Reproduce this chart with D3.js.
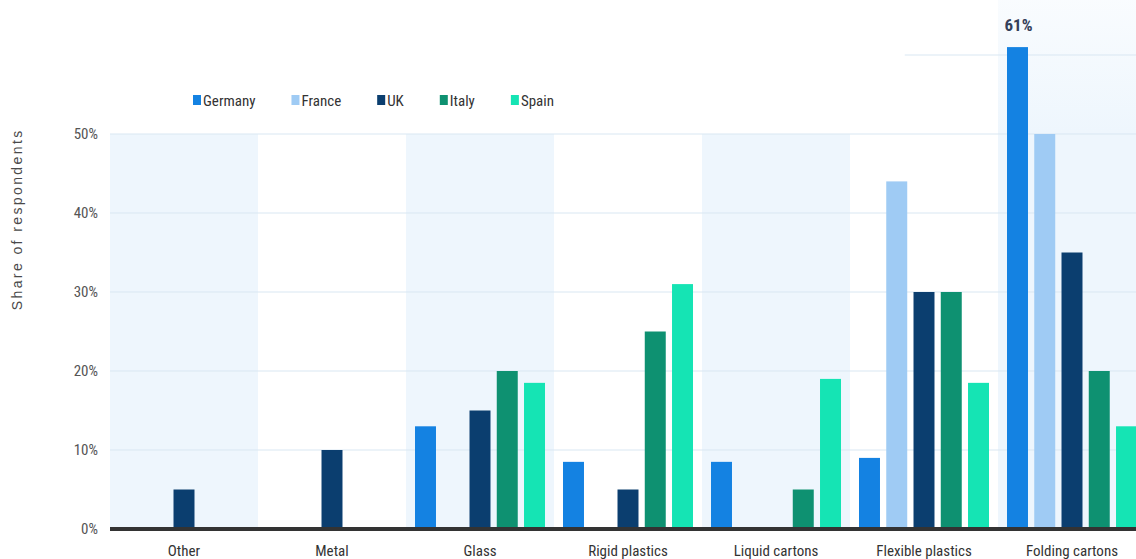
<!DOCTYPE html>
<html>
<head>
<meta charset="utf-8">
<script src="https://cdn.jsdelivr.net/npm/d3@7/dist/d3.min.js"></script>
<style>
  html, body { margin: 0; padding: 0; background: #fff; }
  svg { display: block; }
  .narrow { font-family: "Liberation Sans Narrow", "Roboto Condensed", "DejaVu Sans Condensed", sans-serif; }
</style>
</head>
<body>
<svg id="chart" width="1136" height="559"></svg>
<script>
// Packaging types and countries surveyed
const categories = ["Other", "Metal", "Glass", "Rigid plastics", "Liquid cartons", "Flexible plastics", "Folding cartons"];
const countries = ["Germany", "France", "UK", "Italy", "Spain"];

// Share of respondents (%) per country, in category order
const germany = [0, 0, 13, 8.5, 8.5, 9, 61];
const france  = [0, 0, 0, 0, 0, 44, 50];
const uk      = [5, 10, 15, 5, 0, 30, 35];
const italy   = [0, 0, 20, 25, 5, 30, 20];
const spain   = [0, 0, 18.5, 31, 19, 18.5, 13];

const yTicks = [0, 10, 20, 30, 40, 50];
const labelled = { country: "Germany", category: "Folding cartons", text: "61%" };

const seriesValues = { Germany: germany, France: france, UK: uk, Italy: italy, Spain: spain };
const colors = { Germany: "#1482e2", France: "#9fcbf4", UK: "#0b3e6f", Italy: "#0e9171", Spain: "#15e4b4" };

const W = 1136, H = 559;
const svg = d3.select("#chart");

const x0 = d3.scaleBand().domain(categories).range([110, 1146]).paddingInner(0).paddingOuter(0);
const x1 = d3.scaleBand().domain(countries).range([0, x0.bandwidth()]).paddingInner(0.23).paddingOuter(0.33);
const y = d3.scaleLinear().domain([0, 60]).range([529, 55]);

// soft highlight for the last category column
const defs = svg.append("defs");
const grad = defs.append("linearGradient").attr("id", "hl").attr("x1", 0).attr("y1", 0).attr("x2", 0).attr("y2", 1);
grad.append("stop").attr("offset", "0%").attr("stop-color", "#eef6fd").attr("stop-opacity", 0.35);
grad.append("stop").attr("offset", "25%").attr("stop-color", "#eef6fd").attr("stop-opacity", 1);
grad.append("stop").attr("offset", "100%").attr("stop-color", "#eef6fd").attr("stop-opacity", 1);

// alternating band shading
const lastCat = categories[categories.length - 1];
svg.append("g").selectAll("rect")
  .data(categories.filter((c, i) => i % 2 === 0))
  .join("rect")
  .attr("x", d => x0(d))
  .attr("width", x0.bandwidth())
  .attr("y", d => d === lastCat ? 0 : y(50))
  .attr("height", d => y(0) - (d === lastCat ? 0 : y(50)))
  .attr("fill", d => d === lastCat ? "url(#hl)" : "#eef6fd");

// horizontal grid
const grid = svg.append("g");
grid.selectAll("line")
  .data(yTicks.filter(t => t > 0))
  .join("line")
  .attr("x1", x0.range()[0]).attr("x2", W)
  .attr("y1", d => y(d)).attr("y2", d => y(d))
  .attr("stroke", "#d9e7f2").attr("stroke-width", 1);
grid.append("line")
  .attr("x1", x0("Flexible plastics") + x0.bandwidth() * 0.37).attr("x2", W)
  .attr("y1", y(60)).attr("y2", y(60))
  .attr("stroke", "#d9e7f2").attr("stroke-width", 1);

// bars
const rows = [];
categories.forEach((c, i) => countries.forEach(k => rows.push({ category: c, country: k, value: seriesValues[k][i] })));
svg.append("g").selectAll("rect")
  .data(rows.filter(d => d.value > 0))
  .join("rect")
  .attr("x", d => x0(d.category) + x1(d.country))
  .attr("width", x1.bandwidth())
  .attr("y", d => y(d.value))
  .attr("height", d => y(0) - y(d.value))
  .attr("fill", d => colors[d.country]);

// value label
const lv = seriesValues[labelled.country][categories.indexOf(labelled.category)];
svg.append("text")
  .attr("x", x0(labelled.category) + x1(labelled.country) + x1.bandwidth() / 2 + 1)
  .attr("y", y(lv) - 16)
  .attr("text-anchor", "middle")
  .attr("class", "narrow")
  .attr("font-size", 17).attr("font-weight", "bold")
  .attr("fill", "#34405a")
  .text(labelled.text);

// baseline
svg.append("line")
  .attr("x1", x0.range()[0]).attr("x2", W)
  .attr("y1", y(0)).attr("y2", y(0))
  .attr("stroke", "#333333").attr("stroke-width", 4);

// y axis
const yAxis = d3.axisLeft(y).tickValues(yTicks).tickFormat(d => d + "%").tickSize(0).tickPadding(0);
const yg = svg.append("g").attr("transform", "translate(98,0)").call(yAxis);
yg.select(".domain").remove();
yg.selectAll("text").attr("class", "narrow").attr("font-size", 15).attr("fill", "#555").attr("dy", "0.32em");

// x axis
const xAxis = d3.axisBottom(x0).tickSize(0).tickPadding(0);
const xg = svg.append("g").attr("transform", `translate(0,${y(0) + 27})`).call(xAxis);
xg.select(".domain").remove();
xg.selectAll("text").attr("class", "narrow").attr("font-size", 15).attr("fill", "#333").attr("dy", 0);

// axis title
svg.append("text")
  .attr("transform", `translate(22,${y(39.2)}) rotate(-90)`)
  .attr("text-anchor", "middle")
  .attr("font-family", "Liberation Sans, Arial, sans-serif")
  .attr("font-size", 14).attr("letter-spacing", 2.4)
  .attr("fill", "#4a4a4a")
  .text("Share of respondents");

// legend
const legend = svg.append("g").attr("transform", "translate(193,0)");
let lx = 0;
countries.forEach(k => {
  const g = legend.append("g").attr("transform", `translate(${lx},0)`);
  g.append("rect").attr("x", 0).attr("y", 95).attr("width", 8).attr("height", 10).attr("fill", colors[k]);
  const t = g.append("text").attr("x", 10).attr("y", 106)
    .attr("class", "narrow").attr("font-size", 15).attr("fill", "#333").text(k);
  lx += 10 + t.node().getComputedTextLength() + 36;
});
</script>
</body>
</html>
